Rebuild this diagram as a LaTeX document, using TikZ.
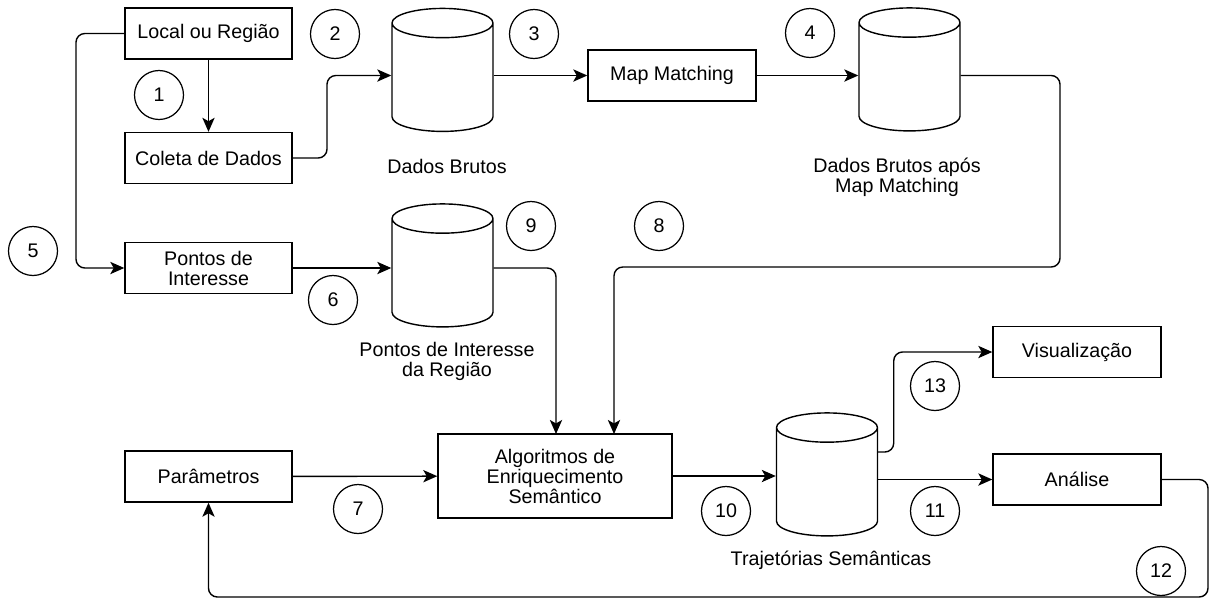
\documentclass[tikz,border=0pt]{standalone}
\usepackage{fontspec}
\setmainfont{Liberation Sans}
\usetikzlibrary{arrows.meta, positioning, shapes.geometric}

\begin{document}
\begin{tikzpicture}[
  every node/.style={font=\fontsize{11.2}{13.4}\selectfont},
  box/.style={draw, line width=0.8pt, minimum width=3.34cm, minimum height=1.02cm,
              align=center, inner sep=1pt},
  db/.style={draw, line width=0.8pt, cylinder, shape border rotate=90,
             minimum width=2.02cm, minimum height=2.46cm, shape aspect=2.5},
  num/.style={draw, circle, line width=0.7pt, minimum size=0.98cm, inner sep=0pt},
  lbl/.style={align=center},
  conn/.style={line width=0.8pt, rounded corners=5pt,
               -{Stealth[length=8pt, width=7pt, inset=2pt]}}
]
  \useasboundingbox (0,0) rectangle (24.22,-12);

  % caixas
  \node[box]                       (local)  at (4.17,-0.67)  {Local ou Região};
  \node[box]                       (coleta) at (4.17,-3.16)  {Coleta de Dados};
  \node[box]                       (pontos) at (4.17,-5.36)  {Pontos de\\[-2pt]Interesse};
  \node[box]                       (param)  at (4.17,-9.53)  {Parâmetros};
  \node[box, minimum width=3.36cm] (mapm)   at (13.44,-1.51) {Map Matching};
  \node[box, minimum width=4.68cm, minimum height=1.68cm]
                                   (algo)   at (11.1,-9.52)  {Algoritmos de\\[-2pt]Enriquecimento\\[-2pt]Semântico};
  \node[box, minimum width=3.36cm] (vis)    at (21.54,-7.04) {Visualização};
  \node[box, minimum width=3.36cm] (anal)   at (21.54,-9.59) {Análise};

  % bancos de dados
  \node[db] (brutos)   at (8.85,-1.62)  {};
  \node[db] (brutosmm) at (18.19,-1.61) {};
  \node[db] (poi)      at (8.85,-5.53)  {};
  \node[db] (traj)     at (16.54,-9.71) {};
  \node[lbl] (brutostxt)   at (8.94,-3.32)  {Dados Brutos};
  \node[lbl] (brutosmmtxt) at (17.94,-3.54) {Dados Brutos após\\[-2pt]Map Matching};
  \node[lbl] (poitxt)      at (8.94,-7.22)  {Pontos de Interesse\\[-2pt]da Região};
  \node[lbl] (trajtxt)     at (16.62,-11.2) {Trajetórias Semânticas};

  % numeros
  \node[num] (n1)  at (3.18,-1.9)    {1};
  \node[num] (n2)  at (6.7,-0.68)    {2};
  \node[num] (n3)  at (10.68,-0.68)  {3};
  \node[num] (n4)  at (16.2,-0.66)   {4};
  \node[num] (n5)  at (0.66,-5.02)   {5};
  \node[num] (n6)  at (6.66,-6.0)    {6};
  \node[num] (n7)  at (7.16,-10.18)  {7};
  \node[num] (n8)  at (13.18,-4.52)  {8};
  \node[num] (n9)  at (10.62,-4.52)  {9};
  \node[num] (n10) at (14.52,-10.22) {10};
  \node[num] (n11) at (18.7,-10.22)  {11};
  \node[num] (n12) at (23.22,-11.42) {12};
  \node[num] (n13) at (18.7,-7.72)   {13};

  % ligacoes
  \draw[conn] (local) -- (coleta);
  \draw[conn] (coleta.east) -- (6.54,-3.16) |- (brutos.west |- mapm.west);
  \draw[conn] (brutos.east |- mapm.west) -- (mapm.west);
  \draw[conn] (mapm.east) -- (brutosmm.west |- mapm.east);
  \draw[conn] (local.west) -- (1.52,-0.67) |- (pontos.west);
  \draw[conn] (pontos.east) -- (poi.west |- pontos.east);
  \draw[conn] (brutosmm.east |- mapm.east) -- (21.2,-1.51) -- (21.2,-5.34) -- (12.28,-5.34) -- (12.28,-8.68);
  \draw[conn] (poi.east |- pontos.east) -- (11.12,-5.36) -- (11.12,-8.68);
  \draw[conn] (param) -- (algo);
  \draw[conn] (algo.east) -- (traj.west |- algo.east);
  \draw[conn] (traj.east |- anal.west) -- (anal.west);
  \draw[conn] (traj.east |- 0,-9.04) -- ++(0.31,0) |- (vis.west);
  \draw[conn] (anal.east) -- (24.16,-9.59) -- (24.16,-11.94) -- (4.17,-11.94) -- (param.south);
\end{tikzpicture}
\end{document}
